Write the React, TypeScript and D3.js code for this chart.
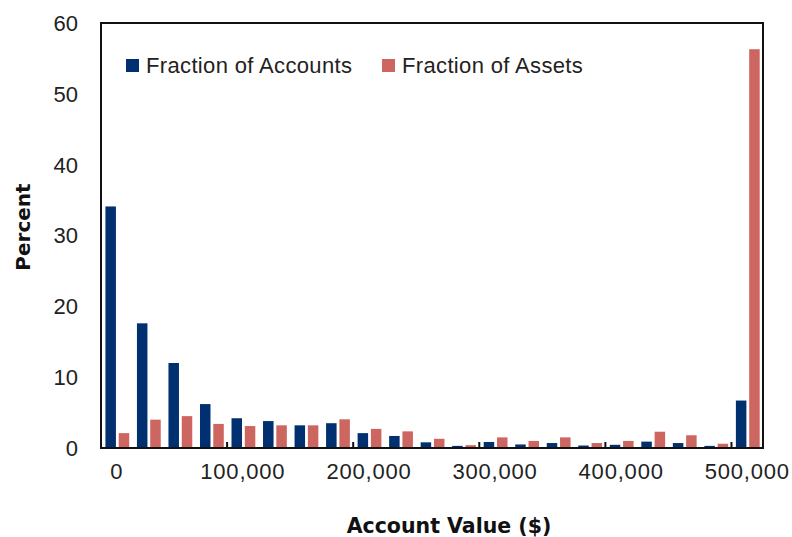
import React, { useEffect, useRef } from "react"
import * as d3 from "d3"

// bins of account value, one every $25,000; labels only every 4th bin
const bins: number[] = d3.range(0, 525000, 25000)
const tickBins: number[] = [0, 100000, 200000, 300000, 400000, 500000]
const yTicks: number[] = [0, 10, 20, 30, 40, 50, 60]

const seriesNames: string[] = ["Fraction of Accounts", "Fraction of Assets"]
const fractionOfAccounts: number[] = [
	34.1, 17.6, 12.0, 6.2, 4.2, 3.8, 3.2, 3.5, 2.1, 1.7, 0.8, 0.3, 0.85, 0.5,
	0.7, 0.35, 0.45, 0.9, 0.7, 0.3, 6.7,
]
const fractionOfAssets: number[] = [
	2.1, 4.0, 4.5, 3.4, 3.1, 3.2, 3.2, 4.05, 2.7, 2.35, 1.3, 0.4, 1.5, 1.0,
	1.5, 0.7, 1.0, 2.3, 1.8, 0.6, 56.3,
]

const App: React.FC = () => {
	const ref = useRef<SVGSVGElement>(null)

	const width = 792
	const height = 537
	const margin = { top: 23, right: 29, bottom: 89, left: 101 }
	const innerWidth = width - margin.left - margin.right
	const innerHeight = height - margin.top - margin.bottom

	useEffect(() => {
		const navy = "#00306f"
		const red = "#cd6660"
		const colors = [navy, red]
		const font = "'Liberation Sans', Arial, sans-serif"
		const boldFont = "'DejaVu Sans', sans-serif"

		const svg = d3.select(ref.current)
		svg.selectAll("*").remove()
		const g = svg
			.append("g")
			.attr("transform", `translate(${margin.left},${margin.top})`)

		const x = d3
			.scaleBand<number>()
			.domain(bins)
			.range([0, innerWidth])
			.padding(0)
		const bw = x.bandwidth()
		const xSub = d3
			.scaleBand<number>()
			.domain([0, 1])
			.range([bw * 0.14, bw * 0.895])
			.paddingInner(0.21)
		const y = d3.scaleLinear().domain([0, 60]).range([innerHeight, 0])

		/* bars */
		const rows = bins.map((b, i) => [fractionOfAccounts[i], fractionOfAssets[i]])
		g.append("g")
			.selectAll("g")
			.data(rows)
			.join("g")
			.attr("transform", (d, i) => `translate(${x(bins[i])},0)`)
			.selectAll("rect")
			.data((d) => d)
			.join("rect")
			.attr("x", (d, j) => xSub(j)!)
			.attr("width", xSub.bandwidth())
			.attr("y", (d) => y(d))
			.attr("height", (d) => innerHeight - y(d))
			.attr("fill", (d, j) => colors[j])

		/* frame */
		g.append("rect")
			.attr("width", innerWidth)
			.attr("height", innerHeight)
			.attr("fill", "none")
			.attr("stroke", "#111")
			.attr("stroke-width", 2)

		/* x ticks sit on the category boundaries, pointing up */
		g.append("g")
			.selectAll("line")
			.data(tickBins.slice(1))
			.join("line")
			.attr("x1", (d) => x(d)!)
			.attr("x2", (d) => x(d)!)
			.attr("y1", innerHeight)
			.attr("y2", innerHeight - 6)
			.attr("stroke", "#111")
			.attr("stroke-width", 2)

		g.append("g")
			.selectAll("text")
			.data(tickBins)
			.join("text")
			.attr("x", (d) => x(d)! + bw / 2)
			.attr("y", innerHeight + 31)
			.attr("text-anchor", "middle")
			.style("font-family", font)
			.style("font-size", "22px")
			.style("letter-spacing", "0.8px")
			.style("fill", "#222")
			.text((d) => d3.format(",")(d))

		g.append("g")
			.selectAll("text")
			.data(yTicks)
			.join("text")
			.attr("x", -23)
			.attr("y", (d) => y(d))
			.attr("dy", "0.36em")
			.attr("text-anchor", "end")
			.style("font-family", font)
			.style("font-size", "22px")
			.style("fill", "#222")
			.text((d) => d)

		/* axis titles */
		svg.append("text")
			.attr("x", 449)
			.attr("y", 533)
			.attr("text-anchor", "middle")
			.style("font-family", boldFont)
			.style("font-weight", "bold")
			.style("font-size", "20.5px")
			.style("fill", "#111")
			.text("Account Value ($)")

		svg.append("text")
			.attr("transform", "translate(30,227) rotate(-90)")
			.attr("text-anchor", "middle")
			.style("font-family", boldFont)
			.style("font-weight", "bold")
			.style("font-size", "20px")
			.style("fill", "#111")
			.text("Percent")

		/* legend */
		const legend = svg
			.append("g")
			.selectAll("g")
			.data(seriesNames)
			.join("g")
			.attr("transform", (d, i) => `translate(${126 + i * 256},59)`)
		legend
			.append("rect")
			.attr("width", 13)
			.attr("height", 13)
			.attr("fill", (d, i) => colors[i])
		legend
			.append("text")
			.attr("x", 20)
			.attr("y", 14)
			.style("font-family", font)
			.style("font-size", "22px")
			.style("letter-spacing", "0.35px")
			.style("fill", "#222")
			.text((d) => d)
	}, [])

	return (
		<svg
			ref={ref}
			width={width}
			height={height}
			style={{ position: "absolute", left: 0, top: 0, background: "#fff" }}
		/>
	)
}

export default App
